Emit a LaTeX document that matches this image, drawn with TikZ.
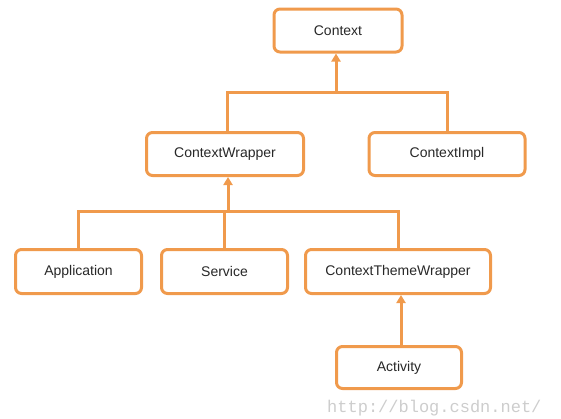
\documentclass[tikz,border=0pt]{standalone}
\usepackage{fontspec}
\setmainfont{Liberation Sans}
\newfontfamily\wmfont{Liberation Mono}
\usetikzlibrary{arrows.meta}
\definecolor{boxorange}{RGB}{240,154,76}
\definecolor{txtgray}{RGB}{40,40,40}
\definecolor{wmgray}{RGB}{205,205,205}
\begin{document}
\begin{tikzpicture}[x=1pt,y=-1pt,
  cls/.style={draw=boxorange,line width=3pt,rounded corners=6pt,fill=white,
    minimum height=43pt,text=txtgray,font=\fontsize{14}{16}\selectfont,inner sep=0pt},
  conn/.style={draw=boxorange,line width=3pt},
  inh/.style={conn,-{Triangle[width=9pt,length=8pt]}}]
\useasboundingbox (0,0) rectangle (561,418);
\node[cls,minimum width=128pt] (ctx) at (338,30.5) {Context};
\node[cls,minimum width=157pt] (cw) at (225,154) {ContextWrapper};
\node[cls,minimum width=156pt] (ci) at (447,154) {ContextImpl};
\node[cls,minimum width=126pt,minimum height=44pt] (app) at (78.5,271.5) {Application};
\node[cls,minimum width=126pt,minimum height=44pt] (svc) at (224.5,271.5) {Service};
\node[cls,minimum width=185pt,minimum height=44pt] (ctw) at (398,271.5) {ContextThemeWrapper};
\node[cls,minimum width=125pt,minimum height=42pt] (act) at (399,367.5) {Activity};
\coordinate (j1) at (336,92);
\coordinate (j1l) at (227,92);
\coordinate (j2) at (228,211);
\coordinate (a1) at (401,0);
% upper tree
\draw[conn] (cw.north -| j1l) -- (j1l) -- (ci.north |- j1) -- (ci.north);
\draw[inh] (j1) -- (j1 |- ctx.south);
% lower tree
\draw[conn] (app.north) -- (app.north |- j2) -- (ctw.north |- j2) -- (ctw.north);
\draw[conn] (svc.north |- j2) -- (svc.north);
\draw[inh] (j2) -- (j2 |- cw.south);
\draw[inh] (act.north -| a1) -- (ctw.south -| a1);
\node[anchor=base west,inner sep=0pt,text=wmgray,font=\wmfont\fontsize{17}{17}\selectfont] (wm) at (327,412) {http://blog.csdn.net/};
\end{tikzpicture}
\end{document}
